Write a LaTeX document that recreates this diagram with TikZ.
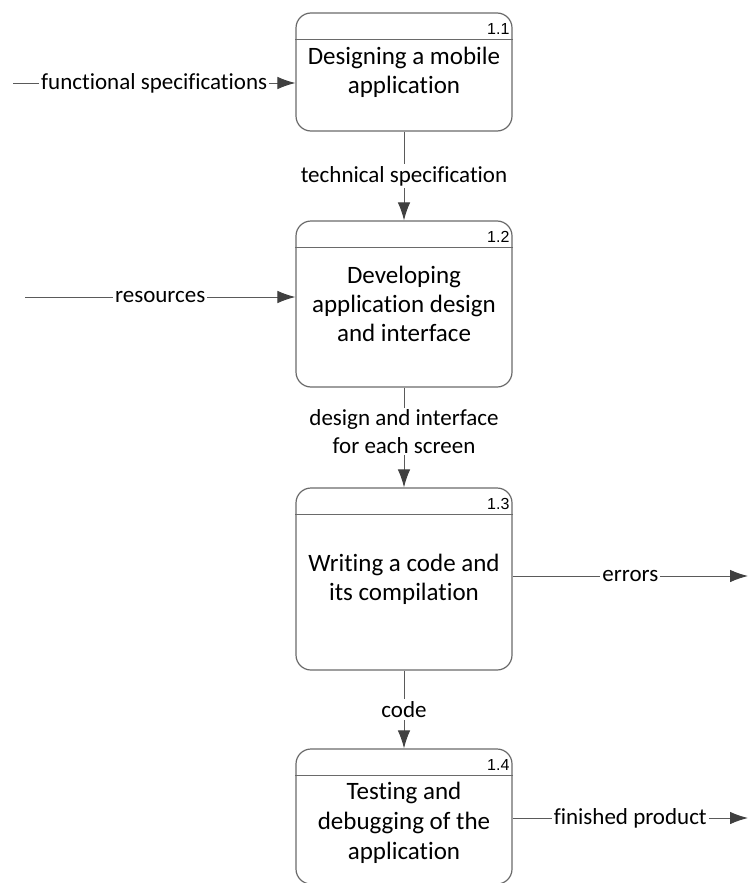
\documentclass[tikz,border=0pt]{standalone}
\usepackage{fontspec}
\setmainfont{Carlito}[Ligatures={NoCommon}]
\newfontfamily\numfont{Liberation Sans}
\usetikzlibrary{arrows.meta,calc}
\definecolor{boxgray}{HTML}{6A6A6A}
\definecolor{linegray}{HTML}{5A5A5A}
\definecolor{headgray}{HTML}{404040}
\begin{document}
\begin{tikzpicture}[x=1pt,y=-1pt,
  proc/.style={draw=boxgray, line width=1.2pt, rounded corners=15pt, rectangle,
    minimum width=216pt, align=center, inner sep=0pt,
    font=\fontsize{25}{29}\selectfont},
  boxtext/.style={align=center, inner sep=0pt, font=\fontsize{25}{30}\selectfont},
  hdr/.style={draw=boxgray, line width=1.2pt},
  num/.style={font=\numfont\fontsize{16}{18}\selectfont, anchor=base east, inner sep=0pt},
  flow/.style={draw=linegray, line width=1pt,
    -{Latex[length=18pt,width=12.5pt,color=headgray]}},
  lbl/.style={fill=white, inner sep=2pt, align=center,
    font=\fontsize{23}{27.5}\selectfont}]
\useasboundingbox[fill=white] (0,0) rectangle (748,883);

\node[proc, minimum height=118pt] (b1) at (404,72) {Designing a mobile\\application};
\node[proc, minimum height=166pt] (b2) at (404,304) {Developing\\application design\\and interface};
\node[proc, minimum height=182pt] (b3) at (404,579) {Writing a code and\\its compilation};
\node[proc, minimum height=135pt] (b4) at (404,816.5) {};
\node[boxtext] (t4) at (404,823) {Testing and\\debugging of the\\application};

\foreach \b/\n in {b1/1.1, b2/1.2, b3/1.3, b4/1.4}{
  \draw[hdr] ($(\b.north west)+(0,27)$) -- ($(\b.north east)+(0,27)$);
  \node[num] (n\b) at ($(\b.north east)+(-3,22)$) {\n};
}

\coordinate (i1) at (13,83);
\draw[flow] (i1) -- node[lbl]{functional specifications} (i1 -| b1.west);
\coordinate (i2) at (25,297);
\draw[flow] (i2) -- node[lbl]{resources} (i2 -| b2.west);

\draw[flow] (b1.south) -- node[lbl]{technical specification} (b2.north);
\draw[flow] (b2.south) -- node[lbl,pos=0.44]{design and interface\\for each screen} (b3.north);
\draw[flow] (b3.south) -- node[lbl]{code} (b4.north);

\coordinate (o1) at (748,576);
\draw[flow] (o1 -| b3.east) -- node[lbl]{errors} (o1);
\coordinate (o2) at (748,818);
\draw[flow] (o2 -| b4.east) -- node[lbl]{finished product} (o2);
\end{tikzpicture}
\end{document}
